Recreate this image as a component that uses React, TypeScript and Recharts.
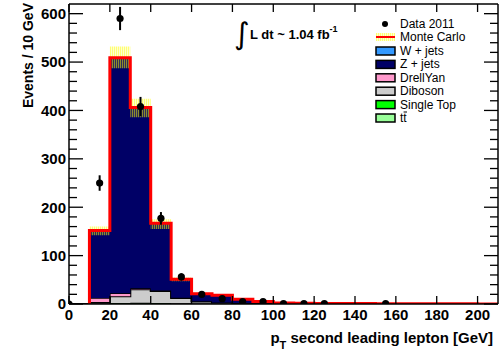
import React from 'react';
import { ComposedChart, Area, Line, Scatter, ErrorBar, XAxis, YAxis } from 'recharts';

// Histogram bins (lower edges, GeV)
const binEdges = [0, 10, 20, 30, 40, 50, 60, 70, 80, 90, 100, 110, 120, 130, 140, 150, 160, 170, 180, 190, 200];
// MC components per bin (events / 10 GeV)
const ttbar = [0, 0.8, 1.2, 1.5, 1.2, 0.8, 0.5, 0.4, 0.3, 0.3, 0.2, 0.2, 0.1, 0.1, 0.1, 0.1, 0, 0, 0, 0, 0];
const singleTop = [0, 0.5, 0.8, 1, 0.8, 0.5, 0.3, 0.2, 0.2, 0.1, 0.1, 0.1, 0, 0, 0, 0, 0, 0, 0, 0, 0];
const diboson = [0, 3, 14, 28, 25, 11, 4.5, 2.5, 1.5, 0.8, 0.5, 0.4, 0.3, 0.2, 0.2, 0.1, 0.1, 0.1, 0.1, 0, 0];
const drellYan = [0, 8, 6, 2, 1, 0.5, 0.3, 0.2, 0.1, 0.1, 0, 0, 0, 0, 0, 0, 0, 0, 0, 0, 0];
const zJets = [0, 138.7, 485.5, 372.5, 138.2, 37.7, 15.1, 14.5, 7.8, 3.6, 1.2, 0.8, 0.8, 0.7, 0.5, 0.4, 0.4, 0.3, 0.2, 0.3, 0.2];
const wJets = [0, 1, 1.5, 1, 0.8, 0.5, 0.3, 0.2, 0.1, 0.1, 0, 0, 0, 0, 0, 0, 0, 0, 0, 0, 0];
const mcTotal = [0, 152, 509, 406, 167, 51, 21, 18, 10, 5, 2, 1.5, 1.2, 1, 0.8, 0.6, 0.5, 0.4, 0.3, 0.3, 0.2];
const bandLow = [0, 142, 487, 386, 155, 47, 19, 16.5, 9, 4.5, 1.6, 1.2, 1, 0.8, 0.6, 0.5, 0.4, 0.3, 0.2, 0.2, 0.1];
const bandHigh = [0, 160, 532, 424, 175, 55, 23, 19.5, 11, 5.5, 2.4, 1.8, 1.4, 1.2, 1, 0.7, 0.6, 0.5, 0.4, 0.4, 0.3];

// Data 2011
const dataX = [0, 15, 25, 35, 45, 55, 65, 75, 85, 95, 105, 115, 125, 155];
const dataY = [0, 250, 590, 408, 177, 56, 20, 11, 5, 5, 1, 1, 1, 1];
const dataErr = [0, 16, 24, 20, 13, 7.5, 4.5, 3.3, 2.2, 2.2, 1, 1, 1, 1];

const xTicks = [0, 20, 40, 60, 80, 100, 120, 140, 160, 180, 200];
const yTicks = [0, 20, 40, 60, 80, 100, 120, 140, 160, 180, 200, 220, 240, 260, 280, 300, 320, 340, 360, 380, 400, 420, 440, 460, 480, 500, 520, 540, 560, 580, 600];

const FONT = 'Liberation Sans, Arial, Helvetica, sans-serif';

const rows: any[] = binEdges.map((x, i) => ({
  x,
  ttbar: ttbar[i],
  singleTop: singleTop[i],
  diboson: diboson[i],
  drellYan: drellYan[i],
  zJets: zJets[i],
  wJets: wJets[i],
  band: [bandLow[i], bandHigh[i]],
}));
rows.push({ ...rows[rows.length - 1], x: 210 });

const totalRows: any[] = [{ x: 10, total: 0 }];
binEdges.forEach((x, i) => {
  if (i >= 1) totalRows.push({ x, total: mcTotal[i] });
});
totalRows.push({ x: 210, total: mcTotal[mcTotal.length - 1] });

const points = dataX.map((x, i) => ({ x, y: dataY[i], err: dataErr[i] }));

const BottomTick = (p: any) => {
  const { x, y, payload } = p;
  return (
    <g>
      <line x1={x} x2={x} y1={y} y2={y - 8} stroke="#000" strokeWidth={1.3} />
      <text x={x} y={y + 15.5} textAnchor="middle" fontFamily={FONT} fontWeight="bold" fontSize={15} fill="#000">
        {payload.value}
      </text>
    </g>
  );
};
const TopTick = (p: any) => {
  const { x, y } = p;
  return <line x1={x} x2={x} y1={y} y2={y + 8} stroke="#000" strokeWidth={1.3} />;
};
const LeftTick = (p: any) => {
  const { x, y, payload } = p;
  const major = payload.value % 100 === 0;
  return (
    <g>
      <line x1={x} x2={x + (major ? 14 : 8)} y1={y} y2={y} stroke="#000" strokeWidth={1.3} />
      {major && (
        <text x={x - 3} y={y} dy="0.36em" textAnchor="end" fontFamily={FONT} fontWeight="bold" fontSize={15} fill="#000">
          {payload.value}
        </text>
      )}
    </g>
  );
};
const RightTick = (p: any) => {
  const { x, y, payload } = p;
  const major = payload.value % 100 === 0;
  return <line x1={x} x2={x - (major ? 14 : 8)} y1={y} y2={y} stroke="#000" strokeWidth={1.3} />;
};

const legendItems = [
  { label: 'W + jets', fill: '#3399ff' },
  { label: 'Z + jets', fill: '#000066' },
  { label: 'DrellYan', fill: '#ff99cc' },
  { label: 'Diboson', fill: '#cccccc' },
  { label: 'Single Top', fill: '#00ff00' },
  { label: 'tt', fill: '#99ff99', bar: true },
];

const HatchDefs = ({ id }: { id: string }) => (
  <defs>
    <pattern id={id} width="2" height="2" patternUnits="userSpaceOnUse">
      <rect x="0" y="0" width="1" height="2" fill="#ffff00" fillOpacity={0.55} />
      <rect x="1" y="0" width="1" height="2" fill="#ffff00" fillOpacity={0.18} />
    </pattern>
  </defs>
);

export default function App() {
  return (
    <div style={{ position: 'absolute', left: 0, top: 0, width: 499, height: 356, background: '#fff' }}>
      <ComposedChart width={499} height={356} data={rows} margin={{ top: 0, right: 0, bottom: 0, left: 0 }}>
        <HatchDefs id="hatch" />
        <XAxis dataKey="x" type="number" domain={[0, 210]} ticks={xTicks} interval={0} allowDataOverflow
          height={52} tickSize={0} tickMargin={0} tickLine={false} tick={BottomTick}
          axisLine={{ stroke: '#000', strokeWidth: 1.5 }} />
        <XAxis xAxisId="top" orientation="top" dataKey="x" type="number" domain={[0, 210]} ticks={xTicks} interval={0}
          allowDataOverflow height={4} tickSize={0} tickMargin={0} tickLine={false} tick={TopTick}
          axisLine={{ stroke: '#000', strokeWidth: 1.5 }} />
        <YAxis type="number" domain={[0, 620]} ticks={yTicks} interval={0} allowDataOverflow width={69}
          tickSize={0} tickMargin={0} tickLine={false} tick={LeftTick} axisLine={{ stroke: '#000', strokeWidth: 1.5 }} />
        <YAxis yAxisId="right" orientation="right" type="number" domain={[0, 620]} ticks={yTicks} interval={0}
          allowDataOverflow width={1} tickSize={0} tickMargin={0} tickLine={false} tick={RightTick}
          axisLine={{ stroke: '#000', strokeWidth: 1.5 }} />

        <Area type="stepAfter" dataKey="ttbar" stackId="mc" fill="#99ff99" fillOpacity={1} stroke="#000" strokeWidth={1.5} isAnimationActive={false} dot={false} activeDot={false} />
        <Area type="stepAfter" dataKey="singleTop" stackId="mc" fill="#00ff00" fillOpacity={1} stroke="#000" strokeWidth={1.5} isAnimationActive={false} dot={false} activeDot={false} />
        <Area type="stepAfter" dataKey="diboson" stackId="mc" fill="#cccccc" fillOpacity={1} stroke="#000" strokeWidth={2} isAnimationActive={false} dot={false} activeDot={false} />
        <Area type="stepAfter" dataKey="drellYan" stackId="mc" fill="#ff99cc" fillOpacity={1} stroke="#000" strokeWidth={1.5} isAnimationActive={false} dot={false} activeDot={false} />
        <Area type="stepAfter" dataKey="zJets" stackId="mc" fill="#000066" fillOpacity={1} stroke="#000" strokeWidth={1} isAnimationActive={false} dot={false} activeDot={false} />
        <Area type="stepAfter" dataKey="wJets" stackId="mc" fill="#3399ff" fillOpacity={1} stroke="#000" strokeWidth={1} isAnimationActive={false} dot={false} activeDot={false} />
        <Area type="stepAfter" dataKey="band" fill="url(#hatch)" fillOpacity={1} stroke="none" isAnimationActive={false} dot={false} activeDot={false} />
        <Line type="stepAfter" data={totalRows} dataKey="total" stroke="#ff0000" strokeWidth={3} dot={false} activeDot={false} isAnimationActive={false} />
        <Scatter data={points} dataKey="y" fill="#000" isAnimationActive={false}
          shape={(p: any) => <circle cx={p.cx} cy={p.cy} r={3.6} fill="#000" />}>
          <ErrorBar dataKey="err" direction="y" width={0} stroke="#000" strokeWidth={2} />
        </Scatter>
      </ComposedChart>

      <svg width={499} height={356} style={{ position: 'absolute', left: 0, top: 0, pointerEvents: 'none' }}>
        <HatchDefs id="hatchLeg" />
        {/* axis titles */}
        <text transform="translate(33,3) rotate(-90)" textAnchor="end" fontFamily={FONT} fontWeight="bold" fontSize={14} fill="#000">
          Events / 10 GeV
        </text>
        <text x={493} y={343} textAnchor="end" fontFamily={FONT} fontWeight="bold" fontSize={15} fill="#000">
          p<tspan fontSize={11} dy={6}>T</tspan><tspan dy={-6}> second leading lepton [GeV]</tspan>
        </text>
        {/* luminosity annotation */}
        <text x={234} y={44} fontFamily="DejaVu Sans, sans-serif" fontSize={30} fill="#000">∫</text>
        <text x={250} y={39} fontFamily={FONT} fontWeight="bold" fontSize={13} fill="#000">
          L dt ~ 1.04 fb<tspan fontSize={9} dy={-7}>-1</tspan>
        </text>
        {/* legend */}
        <g fontFamily={FONT} fontSize={12} fill="#000">
          <circle cx={385} cy={24} r={3} fill="#000" />
          <text x={400} y={28}>Data 2011</text>
          <rect x={376} y={33} width={19} height={8} fill="url(#hatchLeg)" />
          <line x1={376} x2={395} y1={37} y2={37} stroke="#ff0000" strokeWidth={2} />
          <text x={400} y={41}>Monte Carlo</text>
          {legendItems.map((it, i) => (
            <g key={it.label}>
              <rect x={376} y={47 + i * 13.4} width={19} height={8} fill={it.fill} stroke="#000" strokeWidth={1.5} />
              <text x={400} y={55 + i * 13.4}>{it.label}</text>
              {it.bar && (
                <line x1={403.6} x2={407} y1={55 + i * 13.4 - 10} y2={55 + i * 13.4 - 10} stroke="#000" strokeWidth={1} />
              )}
            </g>
          ))}
        </g>
      </svg>
    </div>
  );
}
